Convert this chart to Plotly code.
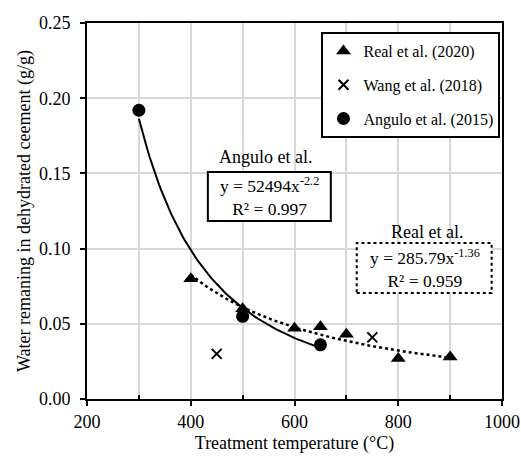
import numpy as np
import plotly.graph_objects as go

# Data
real_x = [400, 500, 600, 650, 700, 800, 900]
real_y = [0.080, 0.060, 0.047, 0.048, 0.043, 0.027, 0.028]
wang_x = [450, 750]
wang_y = [0.030, 0.041]
angulo_x = [300, 500, 650]
angulo_y = [0.192, 0.055, 0.036]

# Power-law trendline coefficients (from chart equations)
angulo_a, angulo_b = 52494, -2.2
real_a, real_b = 285.79, -1.36

FONT = "Liberation Serif, Times New Roman, serif"

fig = go.Figure()

xa = np.linspace(min(angulo_x), max(angulo_x), 100)
fig.add_trace(go.Scatter(x=xa, y=angulo_a * xa ** angulo_b, mode="lines",
                         line=dict(color="black", width=2), showlegend=False, hoverinfo="skip"))
xr = np.linspace(min(real_x), max(real_x), 100)
fig.add_trace(go.Scatter(x=xr, y=real_a * xr ** real_b, mode="lines",
                         line=dict(color="black", width=2.5, dash="dot"), showlegend=False, hoverinfo="skip"))

fig.add_trace(go.Scatter(x=real_x, y=real_y, mode="markers", name="Real et al. (2020)",
                         marker=dict(symbol="triangle-up", size=13, color="black"), legendgroup="a"))
fig.add_trace(go.Scatter(x=wang_x, y=wang_y, mode="markers", name="Wang et al. (2018)",
                         marker=dict(symbol="x-thin", size=10, color="black",
                                     line=dict(color="black", width=2)), legendgroup="b"))
fig.add_trace(go.Scatter(x=angulo_x, y=angulo_y, mode="markers", name="Angulo et al. (2015)",
                         marker=dict(symbol="circle", size=13, color="black"), legendgroup="c"))

# Annotation boxes
fig.add_shape(type="rect", x0=433, x1=670, y0=0.1184, y1=0.1509,
              line=dict(color="black", width=2), fillcolor="white", layer="above")
fig.add_shape(type="rect", x0=720, x1=980, y0=0.0705, y1=0.1037,
              line=dict(color="black", width=2, dash="dot"), fillcolor="white", layer="above")

fig.add_annotation(x=545, y=0.1609, text="Angulo et al.", showarrow=False,
                   font=dict(family=FONT, size=18, color="black"))
fig.add_annotation(x=552, y=0.1346, text="y = 52494x<sup>-2.2</sup><br>R² = 0.997", showarrow=False,
                   font=dict(family=FONT, size=17.5, color="black"))
fig.add_annotation(x=855, y=0.111, text="Real et al.", showarrow=False,
                   font=dict(family=FONT, size=18, color="black"))
fig.add_annotation(x=851, y=0.0871, text="y = 285.79x<sup>-1.36</sup><br>R² = 0.959", showarrow=False,
                   font=dict(family=FONT, size=17.5, color="black"))

fig.update_layout(
    width=521, height=458,
    margin=dict(l=87, r=19, t=23, b=59, autoexpand=False),
    plot_bgcolor="white", paper_bgcolor="white",
    font=dict(family=FONT, size=18, color="black"),
    legend=dict(x=0.565, y=0.976, xanchor="left", yanchor="top",
                bordercolor="black", borderwidth=2, bgcolor="white",
                font=dict(family=FONT, size=16), itemwidth=30, tracegroupgap=10),
)
fig.update_xaxes(range=[200, 1000], tickvals=[200, 400, 600, 800, 1000], automargin=False,
                 showgrid=True, gridcolor="#d9d9d9", gridwidth=1.5,
                 showline=True, linecolor="black", linewidth=2, mirror=True,
                 ticks="outside", ticklen=5, tickwidth=2, tickcolor="black",
                 tickfont=dict(family=FONT, size=18),
                 title=dict(text="Treatment temperature (°C)", font=dict(family=FONT, size=18), standoff=6),
                 zeroline=False, minor=dict(tickvals=[300, 500, 700, 900], showgrid=True,
                                            gridcolor="#d9d9d9", gridwidth=1.5,
                                            ticks="inside", ticklen=4, tickwidth=2, tickcolor="black"))
fig.update_yaxes(range=[0, 0.25], dtick=0.05, tickformat=".2f", automargin=False,
                 showgrid=True, gridcolor="#d9d9d9", gridwidth=1.5,
                 showline=True, linecolor="black", linewidth=2, mirror=True,
                 ticks="outside", ticklen=5, tickwidth=2, tickcolor="black",
                 tickfont=dict(family=FONT, size=18), ticklabelstandoff=6,
                 title=dict(text="Water remaning in dehydrated ceement (g/g)", font=dict(family=FONT, size=18), standoff=4),
                 zeroline=False)

fig.write_html("out.html")
